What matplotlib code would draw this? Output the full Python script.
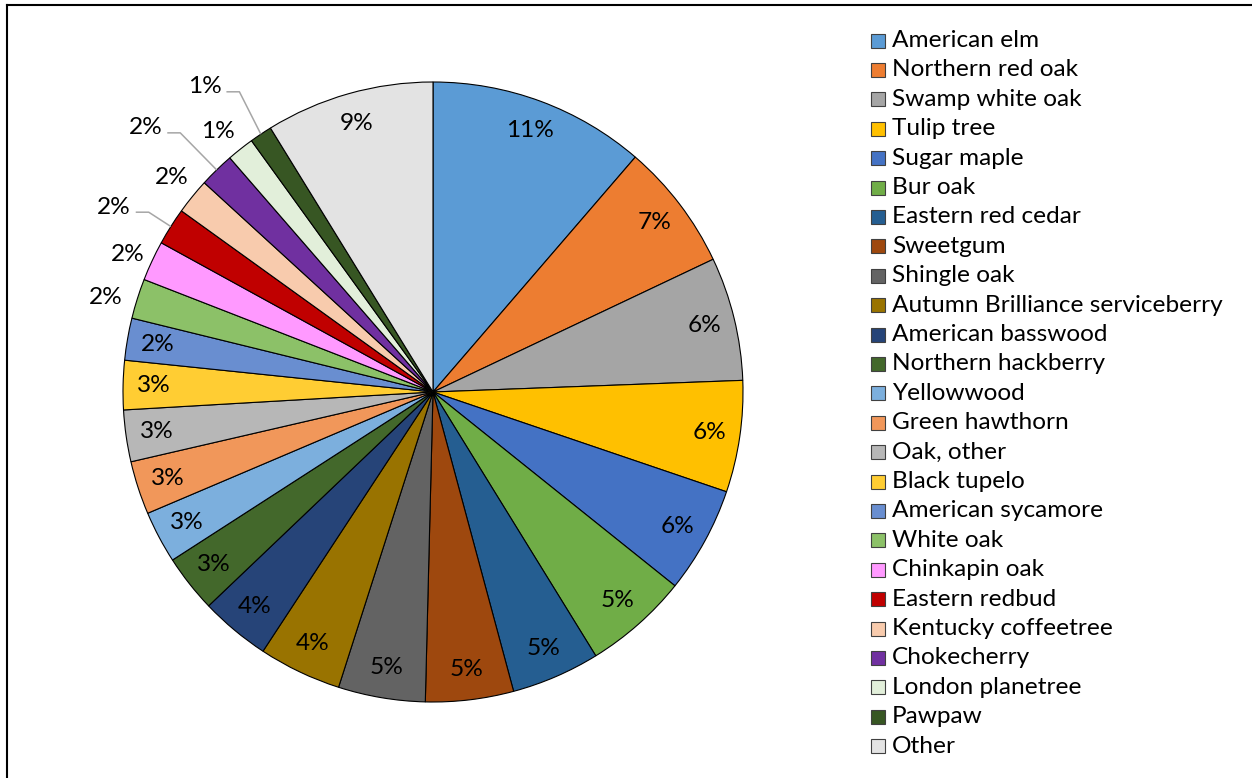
import matplotlib
matplotlib.use("Agg")
import matplotlib.pyplot as plt
from matplotlib.patches import Rectangle
from matplotlib.lines import Line2D
import numpy as np

# Share of planted trees by species (percent)
species = [
    "American elm", "Northern red oak", "Swamp white oak", "Tulip tree",
    "Sugar maple", "Bur oak", "Eastern red cedar", "Sweetgum", "Shingle oak",
    "Autumn Brilliance serviceberry", "American basswood", "Northern hackberry",
    "Yellowwood", "Green hawthorn", "Oak, other", "Black tupelo",
    "American sycamore", "White oak", "Chinkapin oak", "Eastern redbud",
    "Kentucky coffeetree", "Chokecherry", "London planetree", "Pawpaw", "Other",
]
shares = [
    11.31, 6.64, 6.44, 5.81, 5.53, 5.45, 4.61, 4.58, 4.53, 4.31, 3.64, 3.00,
    2.72, 2.78, 2.69, 2.56, 2.19, 2.08, 2.08, 1.94, 1.86, 1.83, 1.42, 1.17,
    8.78,
]
colors = [
    "#5B9BD5", "#ED7D31", "#A5A5A5", "#FFC000", "#4472C4", "#70AD47",
    "#255E91", "#9E480E", "#636363", "#997300", "#264478", "#43682B",
    "#7CAFDD", "#F1975A", "#B7B7B7", "#FFCD33", "#698ED0", "#8CC168",
    "#FF99FF", "#C00000", "#F8CBAD", "#7030A0", "#E2EFDA", "#375623",
    "#E3E3E3",
]

# label placement: radial distance (in radii), angular nudge, leader line
label_r = [0.9] * 17 + [1.10, 1.08, 1.19, 1.09, 1.26, 1.09, 1.23] + [0.9]
label_nudge = [0.0] * 17 + [1.5, 0.8, 2.2, -0.3, 3.2, 1.1, 3.1] + [0.0]
leader = [False] * 19 + [True, False, True, False, True, False]

FONT = "Lato"
FS = 17.6

W, H = 1252, 778
cx, cy, R = 433, 392, 310  # pie centre / radius in pixels (y from top)

fig = plt.figure(figsize=(W / 100, H / 100), dpi=100)
ax = fig.add_axes([0, 0, 1, 1])

wedges, _ = ax.pie(
    shares, colors=colors, startangle=90, counterclock=False, radius=1.0,
    wedgeprops=dict(edgecolor="black", linewidth=0.8),
)
ax.set_xlim(-cx / R, (W - cx) / R)
ax.set_ylim(-(H - cy) / R, cy / R)
ax.set_aspect("equal")
ax.axis("off")

total = sum(shares)
for w, v, rf, nd, ld in zip(wedges, shares, label_r, label_nudge, leader):
    mid = np.deg2rad((w.theta1 + w.theta2) / 2)
    ang = mid + np.deg2rad(nd)
    tx, ty = rf * np.cos(ang), rf * np.sin(ang)
    ax.text(tx, ty, f"{100 * v / total:.0f}%", ha="center", va="center",
            fontsize=FS, family=FONT, color="black")
    if ld:
        ex, ey = np.cos(mid), np.sin(mid)
        xs = [tx + 22 / R, tx + 35 / R, ex]
        ys = [ty - 5 / R, ty - 5 / R, ey]
        ax.plot(xs, ys, color="#A6A6A6", lw=1.1, solid_capstyle="butt")

# legend
lx0, ly0, step, box = 871, 40.5, 29.4, 14
for i, (name, col) in enumerate(zip(species, colors)):
    py = ly0 + i * step
    x0 = (lx0 - cx) / R
    y0 = (cy - py - box / 2) / R
    ax.add_patch(Rectangle((x0, y0), box / R, box / R, facecolor=col,
                           edgecolor="#404040", linewidth=0.8, clip_on=False))
    ax.text((892 - cx) / R, (cy - py) / R, name, ha="left", va="center",
            fontsize=FS, family=FONT, color="black")

# outer frame (left and top edges)
fig.add_artist(Line2D([6.5 / W, 6.5 / W], [0, 1 - 5 / H], color="black",
                      lw=1.5, transform=fig.transFigure))
fig.add_artist(Line2D([6.5 / W, 1], [1 - 5 / H, 1 - 5 / H], color="black",
                      lw=1.5, transform=fig.transFigure))

fig.savefig("out.png", dpi=100, facecolor="white")
